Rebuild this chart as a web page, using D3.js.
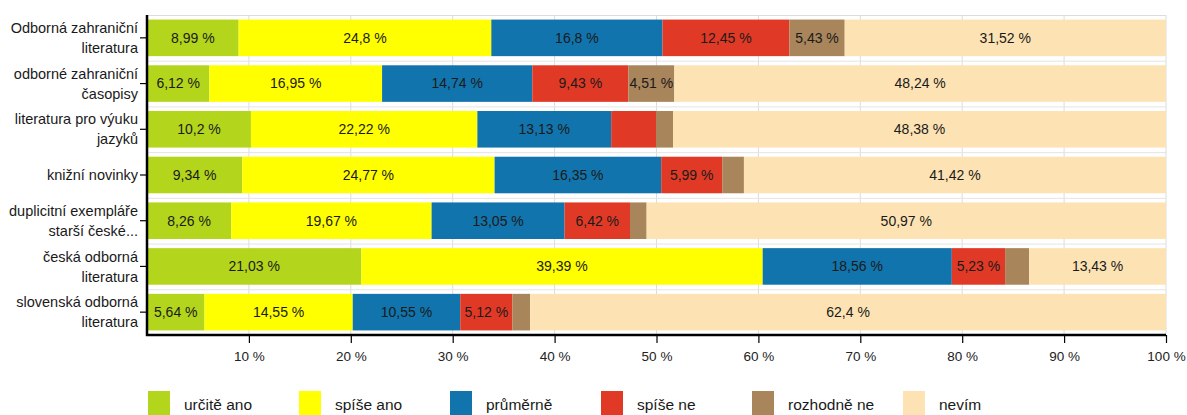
<!DOCTYPE html>
<html>
<head>
<meta charset="utf-8">
<script src="https://cdn.jsdelivr.net/npm/d3@7/dist/d3.min.js"></script>
<style>
  html, body { margin: 0; padding: 0; background: #fff; }
  svg { display: block; font-family: "Liberation Sans", Arial, sans-serif; }
  .xaxis text { font-size: 13.5px; font-family: "Liberation Sans", Arial, sans-serif; fill: #222; }
</style>
</head>
<body>
<svg id="chart" width="1187" height="415"></svg>
<script>
// ---- Data ----
const categories = [
  ["Odborná zahraniční", "literatura"],
  ["odborné zahraniční", "časopisy"],
  ["literatura pro výuku", "jazyků"],
  ["knižní novinky"],
  ["duplicitní exempláře", "starší české..."],
  ["česká odborná", "literatura"],
  ["slovenská odborná", "literatura"]
];
const seriesNames = ["určitě ano", "spíše ano", "průměrně", "spíše ne", "rozhodně ne", "nevím"];
const urciteAno  = [8.99, 6.12, 10.2, 9.34, 8.26, 21.03, 5.64];
const spiseAno   = [24.8, 16.95, 22.22, 24.77, 19.67, 39.39, 14.55];
const prumerne   = [16.8, 14.74, 13.13, 16.35, 13.05, 18.56, 10.55];
const spiseNe    = [12.45, 9.43, 4.4, 5.99, 6.42, 5.23, 5.12];
const rozhodneNe = [5.43, 4.51, 1.67, 2.13, 1.63, 2.36, 1.74];
const nevim      = [31.52, 48.24, 48.38, 41.42, 50.97, 13.43, 62.4];
const xTicks = [10, 20, 30, 40, 50, 60, 70, 80, 90, 100];
const colors = ["#b3d51c", "#ffff00", "#1274ac", "#e03a26", "#a8855a", "#fde3b3"];
const labelMin = 4.5;

const seriesValues = [urciteAno, spiseAno, prumerne, spiseNe, rozhodneNe, nevim];
const fmt = v => String(v).replace(".", ",") + " %";

// ---- Layout ----
const svg = d3.select("#chart");
const L = 147, R = 1166, T = 15, B = 335;

const x = d3.scaleLinear().domain([0, 100]).range([L, R]);
const y = d3.scaleBand().domain(d3.range(categories.length)).range([T, B])
  .paddingInner(0.2).paddingOuter(0.1);

// gridlines
const grid = svg.append("g");
grid.selectAll("line.v").data(xTicks).join("line")
  .attr("x1", d => x(d)).attr("x2", d => x(d))
  .attr("y1", T).attr("y2", B)
  .attr("stroke", "#dcdcdc").attr("stroke-width", 1);
grid.append("line").attr("x1", L).attr("x2", R).attr("y1", T + 0.5).attr("y2", T + 0.5)
  .attr("stroke", "#dcdcdc");
grid.selectAll("line.h").data(d3.range(1, categories.length)).join("line")
  .attr("x1", L).attr("x2", R)
  .attr("y1", d => y(d) - y.step() * y.paddingInner() / 2 + 0.5)
  .attr("y2", d => y(d) - y.step() * y.paddingInner() / 2 + 0.5)
  .attr("stroke", "#e4e4e4");

// stacked data
const rows = categories.map((c, i) => {
  let acc = 0;
  return seriesValues.map((s, k) => {
    const v = s[i];
    const seg = { row: i, k, v, x0: acc, x1: acc + v };
    acc += v;
    return seg;
  });
});
const segs = rows.flat();

svg.append("g").selectAll("rect").data(segs).join("rect")
  .attr("x", d => x(d.x0))
  .attr("width", d => x(d.x1) - x(d.x0))
  .attr("y", d => y(d.row))
  .attr("height", y.bandwidth())
  .attr("fill", d => colors[d.k]);

svg.append("g").selectAll("text").data(segs.filter(d => d.v >= labelMin)).join("text")
  .attr("x", d => (x(d.x0) + x(d.x1)) / 2)
  .attr("y", d => y(d.row) + y.bandwidth() / 2)
  .attr("dy", "0.35em")
  .attr("text-anchor", "middle")
  .attr("font-size", 14)
  .attr("fill", "#1a1a1a")
  .text(d => fmt(d.v));

// x axis
const xAxis = svg.append("g").attr("class", "xaxis").attr("transform", `translate(0,${B})`)
  .call(d3.axisBottom(x).tickValues(xTicks).tickSize(8).tickPadding(8).tickFormat(d => d + " %"));
xAxis.attr("font-size", 13.5).attr("font-family", "Liberation Sans, Arial, sans-serif");
xAxis.select(".domain").attr("stroke", "#000").attr("stroke-width", 2.5)
  .attr("d", `M${L - 1},0H${R}`);
xAxis.selectAll(".tick line").attr("stroke", "#000").attr("stroke-width", 1.2);

// y axis
const yAxis = svg.append("g").attr("transform", `translate(${L},0)`)
  .call(d3.axisLeft(y).tickSize(7).tickFormat(""));
yAxis.select(".domain").attr("stroke", "#000").attr("stroke-width", 2.5)
  .attr("d", `M0,${T}V${B + 1}`);
yAxis.selectAll(".tick line").attr("stroke", "#000").attr("stroke-width", 1.2);

// category labels
const lblG = svg.append("g");
categories.forEach((lines, i) => {
  const cy = y(i) + y.bandwidth() / 2;
  const lh = 20;
  const t = lblG.append("text")
    .attr("text-anchor", "end")
    .attr("font-size", 14.5)
    .attr("fill", "#1a1a1a");
  lines.forEach((ln, j) => {
    t.append("tspan")
      .attr("x", L - 9)
      .attr("y", cy + (j - (lines.length - 1) / 2) * lh)
      .attr("dy", "0.35em")
      .text(ln);
  });
});

// legend
const leg = svg.append("g");
const legItems = leg.selectAll("g").data(seriesNames).join("g")
  .attr("transform", (d, i) => `translate(${148 + i * 151},391)`);
legItems.append("rect").attr("width", 22).attr("height", 24)
  .attr("fill", (d, i) => colors[i]);
legItems.append("text").attr("x", 36).attr("y", 14).attr("dy", "0.35em")
  .attr("font-size", 15.5).attr("fill", "#1a1a1a").text(d => d);
</script>
</body>
</html>
